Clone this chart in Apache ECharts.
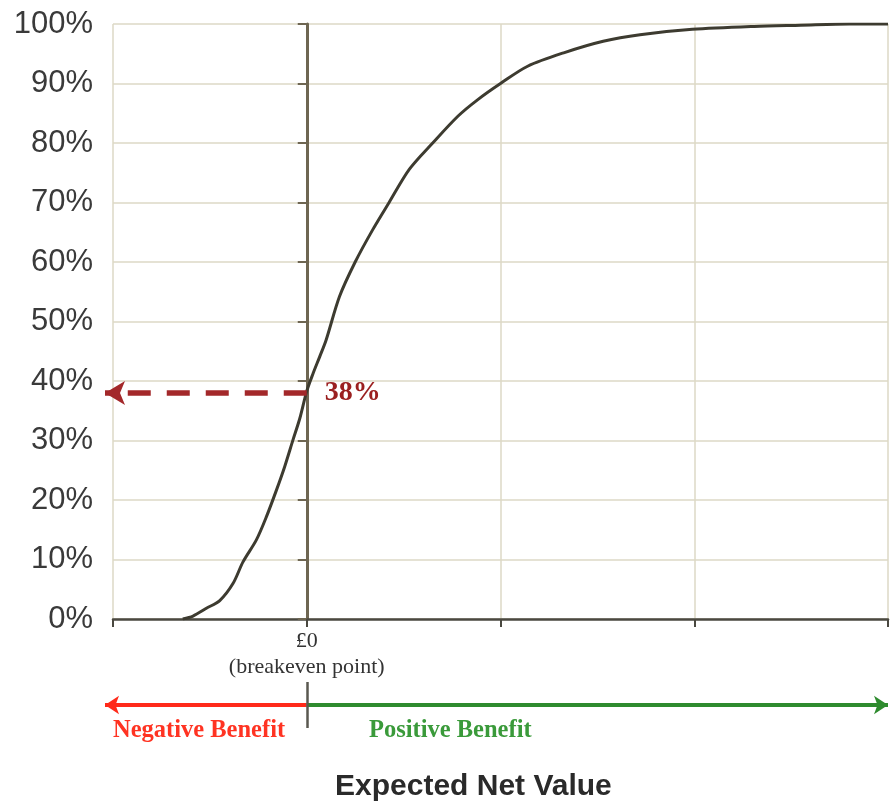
<!DOCTYPE html>
<html>
<head>
<meta charset="utf-8">
<script src="https://cdn.jsdelivr.net/npm/echarts@6/dist/echarts.min.js"></script>
<style>
  html, body { margin: 0; padding: 0; background: #ffffff; }
  #chart { width: 894px; height: 808px; }
</style>
</head>
<body>
<div id="chart"></div>
<script>
// Expected net value (in axis units; 0 = breakeven) and cumulative probability (%)
const xValues = [-0.64, -0.587, -0.518, -0.449, -0.380, -0.329, -0.260, -0.208, -0.156, -0.114, -0.071, -0.036, 0, 0.033, 0.067, 0.10, 0.169, 0.25, 0.34, 0.425, 0.53, 0.65, 0.78, 0.883, 1.0, 1.14, 1.33, 1.53, 1.72, 1.99, 2.31, 2.55, 2.8, 3.0];
const cdfValues = [0, 0.5, 1.8, 3.1, 6.0, 9.6, 13.3, 17.2, 21.7, 25.6, 30.1, 33.7, 38.3, 41.3, 44.1, 46.9, 54.2, 60, 65.4, 70, 75.6, 80, 84.5, 87.3, 90, 92.9, 95.2, 97.1, 98.2, 99.1, 99.6, 99.8, 100, 100];
const xTickLabels = ['', '£0\n(breakeven point)', '', '', ''];
const xTickValues = [-1, 0, 1, 2, 3];
const breakevenValue = 38;
const benefitLabels = ['Negative Benefit', 'Positive Benefit'];
const axisTitle = 'Expected Net Value';

const curve = xValues.map((x, i) => [x, cdfValues[i]]);
const chart = echarts.init(document.getElementById('chart'), null, { renderer: 'canvas' });

const option = {
  animation: false,
  backgroundColor: '#ffffff',
  grid: [
    { left: 113, right: 6, top: 24, bottom: 189 },
    { left: 113, right: 6, top: 682, height: 46 }
  ],
  xAxis: [
    {
      type: 'value', gridIndex: 0, min: -1, max: 3, interval: 1,
      axisLine: { show: true, onZero: false, lineStyle: { color: '#4a4840', width: 2.5 } },
      axisTick: { show: true, length: 8, lineStyle: { color: '#4a4840', width: 2 } },
      splitLine: { show: true, lineStyle: { color: '#dcd8c6', width: 1.5 } },
      axisLabel: {
        margin: 9, lineHeight: 26, fontSize: 22, color: '#333333',
        fontFamily: 'Liberation Serif',
        formatter: function (v) {
          const i = xTickValues.indexOf(Math.round(v));
          return i >= 0 ? xTickLabels[i] : '';
        }
      }
    },
    {
      type: 'value', gridIndex: 1, min: -1, max: 3, show: false
    }
  ],
  yAxis: [
    {
      type: 'value', gridIndex: 0, min: 0, max: 100, interval: 10,
      axisLine: { show: false, onZero: false },
      axisTick: { show: false },
      splitLine: { show: true, lineStyle: { color: '#dcd8c6', width: 1.5 } },
      axisLabel: {
        margin: 20, fontSize: 31, color: '#3a3a3a', fontFamily: 'Liberation Sans',
        formatter: '{value}%'
      }
    },
    {
      type: 'value', gridIndex: 0, min: 0, max: 100, interval: 10, position: 'left',
      axisLine: { show: true, onZero: true, lineStyle: { color: '#6e6652', width: 3 } },
      axisTick: { show: true, inside: false, length: 9, lineStyle: { color: '#6e6652', width: 2 } },
      splitLine: { show: false },
      axisLabel: { show: false }
    },
    {
      type: 'value', gridIndex: 1, min: -1, max: 1, show: false
    }
  ],
  series: [
    {
      type: 'line',
      xAxisIndex: 0, yAxisIndex: 0,
      data: curve,
      smooth: 0.3,
      showSymbol: false,
      lineStyle: { color: '#3d3b30', width: 3 },
      silent: true
    },
    {
      type: 'line',
      xAxisIndex: 1, yAxisIndex: 2,
      data: [[0, 0]],
      showSymbol: false,
      lineStyle: { width: 0, opacity: 0 },
      silent: true
    }
  ],
  graphic: [
    {
      type: 'text', left: 113, top: 718, silent: true,
      style: { text: benefitLabels[0], fill: '#ff3322', fontSize: 24.5, fontWeight: 'bold', fontFamily: 'Liberation Serif' }
    },
    {
      type: 'text', left: 369, top: 718, silent: true,
      style: { text: benefitLabels[1], fill: '#3a9a3a', fontSize: 24.5, fontWeight: 'bold', fontFamily: 'Liberation Serif' }
    },
    {
      type: 'text', left: 335, top: 772, silent: true,
      style: { text: axisTitle, fill: '#2a2a2a', fontSize: 30, fontWeight: 'bold', fontFamily: 'Liberation Sans' }
    }
  ]
};
chart.setOption(option);

// Arrow tips overshoot the left edge of the plot slightly, as in the original
const overshoot = 8;
const pZero = chart.convertToPixel({ xAxisIndex: 0, yAxisIndex: 0 }, [0, breakevenValue]);
const pMin = chart.convertToPixel({ xAxisIndex: 0, yAxisIndex: 0 }, [-1, breakevenValue]);
const qZero = chart.convertToPixel({ xAxisIndex: 1, yAxisIndex: 2 }, [0, 0]);
const qMin = chart.convertToPixel({ xAxisIndex: 1, yAxisIndex: 2 }, [-1, 0]);

chart.setOption({
  series: [
    {
      markLine: {
        silent: true,
        animation: false,
        symbol: ['none', 'arrow'],
        symbolSize: [18, 20],
        lineStyle: { color: '#a3282a', width: 5.5, type: [23, 16] },
        label: {
          show: true, position: 'start', distance: 18,
          formatter: breakevenValue + '%',
          color: '#9b2020', fontSize: 28, fontWeight: 'bold',
          fontFamily: 'Liberation Serif'
        },
        data: [[{ coord: [0, breakevenValue] }, { x: pMin[0] - overshoot, y: pZero[1] }]]
      }
    },
    {
      markLine: {
        silent: true,
        animation: false,
        label: { show: false },
        data: [
          [{ coord: [0, 0], symbol: 'none', lineStyle: { color: '#ff2a1a', width: 4, type: 'solid' } },
           { x: qMin[0] - overshoot, y: qZero[1], symbol: 'arrow', symbolSize: [14, 14] }],
          [{ coord: [0, 0], symbol: 'none', lineStyle: { color: '#2e8b2e', width: 4, type: 'solid' } },
           { coord: [3, 0], symbol: 'arrow', symbolSize: [14, 14] }],
          [{ coord: [0, -1], symbol: 'none', lineStyle: { color: '#5a5850', width: 2.5, type: 'solid' } },
           { coord: [0, 1], symbol: 'none' }]
        ]
      }
    }
  ]
});
</script>
</body>
</html>
